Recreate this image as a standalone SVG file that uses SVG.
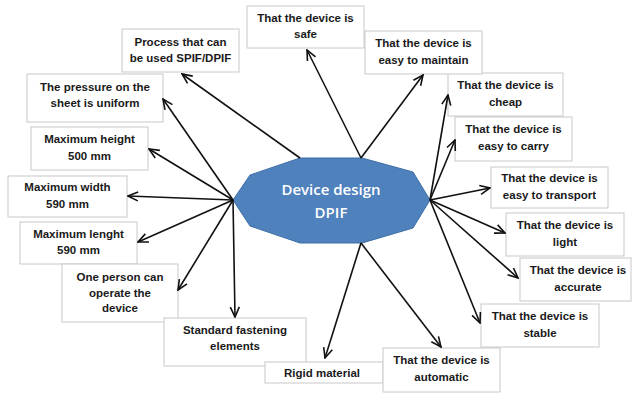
<svg xmlns="http://www.w3.org/2000/svg" width="633" height="394" viewBox="0 0 633 394">
  <defs>
    <style>
      .box rect { fill: #ffffff; stroke: #c8c8c8; stroke-width: 1; }
      .box text { font-family: "Liberation Sans", Arial, sans-serif; font-weight: bold; font-size: 11.5px; fill: #1a1a1a; text-anchor: middle; }
      .hub { fill: #4f81bd; stroke: #3d6da6; stroke-width: 1; }
      .hub-label { font-family: "Open Sans", "Liberation Sans", sans-serif; font-weight: 600; font-size: 15px; fill: #ffffff; text-anchor: middle; }
      .links line { stroke: #111111; stroke-width: 1.6; marker-end: url(#arrow); }
    </style>
    <marker id="arrow" viewBox="0 0 12 12" refX="11" refY="6" markerWidth="12" markerHeight="12" markerUnits="userSpaceOnUse" orient="auto">
      <path d="M1,1.5 L11,6 L1,10.5" fill="none" stroke="#111111" stroke-width="1.6"/>
    </marker>
  </defs>

  <!-- central node -->
  <g id="center">
    <polygon class="hub" points="233,200 250,175 300,158 362,158 413,172 430,200 413,228 362,243 300,243 250,226"/>
    <text class="hub-label" x="331" y="195">Device design</text>
    <text class="hub-label" x="331" y="218">DPIF</text>
  </g>

  <!-- requirement nodes -->
  <g id="safe" class="box">
    <rect x="247" y="6" width="117" height="42"/>
    <text x="305.5" y="22">That the device is</text>
    <text x="305.5" y="38">safe</text>
  </g>
  <g id="process" class="box">
    <rect x="122" y="29" width="117" height="43"/>
    <text x="180.5" y="46">Process that can</text>
    <text x="180.5" y="62">be used SPIF/DPIF</text>
  </g>
  <g id="pressure" class="box">
    <rect x="27" y="74" width="136" height="48"/>
    <text x="95" y="91">The pressure on the</text>
    <text x="95" y="107">sheet is uniform</text>
  </g>
  <g id="height" class="box">
    <rect x="31" y="127" width="117" height="43"/>
    <text x="89.5" y="143">Maximum height</text>
    <text x="89.5" y="160">500 mm</text>
  </g>
  <g id="width" class="box">
    <rect x="8" y="176" width="119" height="41"/>
    <text x="67.5" y="191">Maximum width</text>
    <text x="67.5" y="208">590 mm</text>
  </g>
  <g id="length" class="box">
    <rect x="20" y="222" width="117" height="42"/>
    <text x="78.5" y="238">Maximum lenght</text>
    <text x="78.5" y="254">590 mm</text>
  </g>
  <g id="operator" class="box">
    <rect x="62" y="264" width="116" height="58"/>
    <text x="120" y="281">One person can</text>
    <text x="120" y="297">operate the</text>
    <text x="120" y="312">device</text>
  </g>
  <g id="fastening" class="box">
    <rect x="164" y="318" width="142" height="48"/>
    <text x="235" y="334">Standard fastening</text>
    <text x="235" y="350">elements</text>
  </g>
  <g id="rigid" class="box">
    <rect x="265" y="362" width="118" height="21"/>
    <text x="322" y="377">Rigid material</text>
  </g>
  <g id="automatic" class="box">
    <rect x="383" y="348" width="117" height="44"/>
    <text x="441.5" y="364">That the device is</text>
    <text x="441.5" y="381">automatic</text>
  </g>
  <g id="stable" class="box">
    <rect x="481" y="304" width="118" height="43"/>
    <text x="540" y="320">That the device is</text>
    <text x="540" y="337">stable</text>
  </g>
  <g id="accurate" class="box">
    <rect x="520" y="258" width="111" height="43"/>
    <text x="578" y="274">That the device is</text>
    <text x="578" y="291">accurate</text>
  </g>
  <g id="light" class="box">
    <rect x="506" y="213" width="118" height="43"/>
    <text x="565" y="229">That the device is</text>
    <text x="565" y="246">light</text>
  </g>
  <g id="transport" class="box">
    <rect x="491" y="167" width="117" height="41"/>
    <text x="549.5" y="182">That the device is</text>
    <text x="549.5" y="199">easy to transport</text>
  </g>
  <g id="carry" class="box">
    <rect x="455" y="117" width="117" height="44"/>
    <text x="513.5" y="133">That the device is</text>
    <text x="513.5" y="150">easy to carry</text>
  </g>
  <g id="cheap" class="box">
    <rect x="448" y="73" width="115" height="43"/>
    <text x="505.5" y="89">That the device is</text>
    <text x="505.5" y="106">cheap</text>
  </g>
  <g id="maintain" class="box">
    <rect x="365" y="31" width="117" height="43"/>
    <text x="423.5" y="47">That the device is</text>
    <text x="423.5" y="64">easy  to maintain</text>
  </g>

  <!-- connectors -->
  <g id="connectors" class="links">
    <line x1="361" y1="158" x2="307" y2="50"/>
    <line x1="361" y1="158" x2="423" y2="75"/>
    <line x1="300" y1="158" x2="182" y2="74"/>
    <line x1="233" y1="200" x2="163" y2="99"/>
    <line x1="233" y1="200" x2="149" y2="149"/>
    <line x1="233" y1="200" x2="128" y2="196"/>
    <line x1="233" y1="200" x2="138" y2="242"/>
    <line x1="233" y1="200" x2="178" y2="290"/>
    <line x1="233" y1="200" x2="235" y2="317"/>
    <line x1="361" y1="243" x2="325" y2="358"/>
    <line x1="361" y1="243" x2="441" y2="347"/>
    <line x1="430" y1="200" x2="448" y2="95"/>
    <line x1="430" y1="200" x2="455" y2="140"/>
    <line x1="430" y1="200" x2="490" y2="188"/>
    <line x1="430" y1="200" x2="505" y2="233"/>
    <line x1="430" y1="200" x2="518" y2="278"/>
    <line x1="430" y1="200" x2="480" y2="323"/>
  </g>
</svg>
